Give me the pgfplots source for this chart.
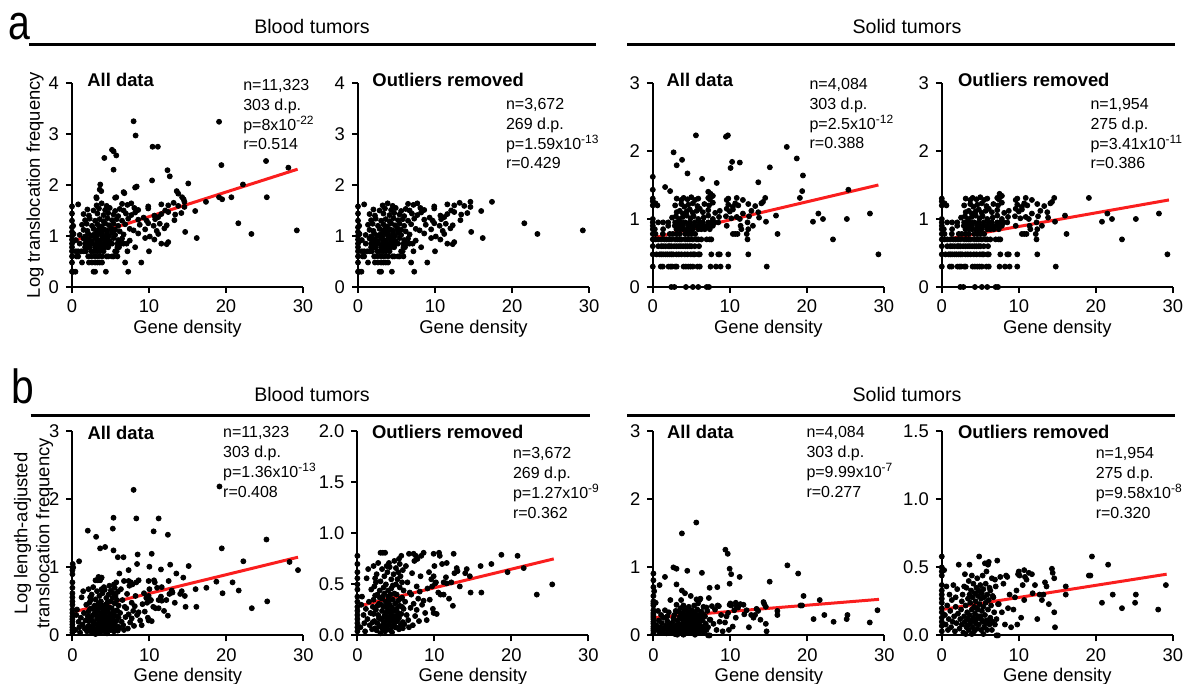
\documentclass[border=0pt]{standalone}
\usepackage{pgfplots}
\pgfplotsset{compat=1.18}
\usepackage{pgfplotstable}
\usepackage{fontspec}
\setmainfont{Liberation Sans}

\definecolor{fitred}{RGB}{250,30,30}

% blood tumors, row a (translocation frequency)
\pgfplotstableread{
x y
0 0.30
0 0.48
0 0.60
0 0.70
0 0.78
0 0.85
0 0.93
0 1.00
0 1.08
0 1.17
0 1.30
0 1.44
0 1.58
0.15 1.20
0.2 0.90
0.2 0.30
0.45 0.30
2.8 0.30
3.0 0.30
4.4 0.30
7.3 0.30
1.3 0.48
2.2 0.48
2.6 0.48
3.0 0.48
3.3 0.48
3.6 0.48
3.9 0.48
6.9 0.48
9.0 0.48
0.6 0.60
0.8 0.60
2.1 0.60
2.5 0.60
3.0 0.60
3.4 0.60
3.9 0.60
4.5 0.60
4.7 0.60
5.2 0.60
5.4 0.60
5.9 0.60
0.5 0.70
0.8 0.70
1.2 0.70
1.5 0.70
1.8 0.70
2.5 0.70
2.8 0.70
3.2 0.70
3.6 0.70
4.1 0.70
5.6 0.70
5.8 0.70
7.2 0.70
10.0 0.70
1.7 0.78
2.1 0.78
2.3 0.78
3.0 0.78
3.4 0.78
3.9 0.78
4.3 0.78
4.7 0.78
5.9 0.78
6.1 0.78
8.2 0.78
1.0 0.85
1.7 0.85
2.2 0.85
2.6 0.85
3.2 0.85
3.5 0.85
3.9 0.85
4.2 0.85
4.5 0.85
4.9 0.85
5.2 0.85
5.9 0.85
6.4 0.85
6.7 0.85
7.1 0.85
11.6 0.85
12.3 0.84
0.5 0.92
1.5 0.95
1.9 0.91
2.2 0.94
2.6 0.90
3.0 0.96
3.3 0.92
3.6 0.89
3.9 0.95
4.3 0.91
4.6 0.94
4.9 0.90
5.4 0.96
6.0 0.92
6.5 0.95
7.5 0.91
9.5 0.96
10.7 0.93
12.5 0.88
16.2 0.96
0.2 1.04
1.0 1.02
1.7 0.99
2.1 1.05
2.5 1.01
2.9 1.03
3.2 0.99
3.5 1.06
3.85 1.02
4.1 0.98
4.5 1.04
4.8 1.00
5.2 1.06
5.6 1.02
6.7 1.03
8.6 1.05
10.1 0.99
11.2 1.04
23.3 1.04
14.7 1.08
29.2 1.11
1.5 1.12
2.0 1.10
2.8 1.14
3.2 1.11
3.6 1.15
3.9 1.09
4.2 1.13
4.6 1.10
5.1 1.15
5.6 1.12
6.2 1.09
7.5 1.14
8.0 1.11
9.5 1.13
11.0 1.10
12.0 1.15
1.3 1.22
1.9 1.24
2.6 1.20
3.3 1.23
3.8 1.19
4.3 1.25
4.8 1.21
5.4 1.24
6.0 1.20
6.9 1.23
8.8 1.22
9.9 1.25
10.6 1.20
11.4 1.24
12.3 1.21
21.6 1.25
1.7 1.31
2.3 1.34
3.0 1.30
3.6 1.33
4.1 1.29
4.6 1.35
5.2 1.31
5.8 1.33
6.5 1.30
7.3 1.34
8.6 1.32
9.3 1.36
9.7 1.30
10.8 1.33
11.2 1.37
13.3 1.31
1.5 1.43
2.2 1.40
3.3 1.44
4.1 1.41
4.7 1.45
5.4 1.42
6.0 1.39
7.0 1.44
7.7 1.41
8.2 1.46
10.7 1.40
11.6 1.43
12.5 1.47
13.4 1.42
14.2 1.45
2.0 1.52
2.8 1.50
3.5 1.54
4.3 1.51
4.9 1.55
5.6 1.49
6.2 1.53
6.7 1.50
8.1 1.55
8.6 1.51
9.9 1.54
12.1 1.50
16.0 1.49
14.6 1.57
0.8 1.62
3.2 1.60
3.85 1.64
4.5 1.59
6.5 1.63
7.2 1.61
7.7 1.64
9.9 1.58
11.6 1.62
12.5 1.60
13.2 1.65
13.8 1.59
14.6 1.67
17.4 1.67
8.0 3.25
8.26 2.97
19.1 3.24
10.46 2.75
11.15 2.75
5.2 2.69
5.4 2.66
4.2 2.53
5.75 2.58
5.4 2.30
25.2 2.47
28.1 2.34
19.4 2.39
12.4 2.29
12.7 2.17
10.4 2.09
15.1 2.03
22.2 2.01
8.4 1.97
8.2 1.95
3.67 2.01
3.6 1.91
3.8 1.88
6.7 1.86
3.16 1.76
5.75 1.76
13.6 1.88
13.8 1.83
14.3 1.76
20.7 1.76
19.1 1.76
25.3 1.76
19.5 1.72
6.8 1.84
5.6 1.75
3.2 1.74
14.5 1.72
}\bloodA

% solid tumors, row a
\pgfplotstableread{
x y
0 0.30
0 0.48
0 0.60
0 0.70
0 0.78
0 0.85
0 0.90
0 0.95
0 1.00
0 1.20
0 1.26
0 1.30
0.35 1.23
0.6 1.20
2.4 0
2.8 0
4.3 0
5.2 0
5.9 0
7.0 0
7.3 0
1.04 0.30
1.3 0.30
2.04 0.30
2.3 0.30
2.5 0.30
2.9 0.30
3.1 0.30
4.0 0.30
4.3 0.30
4.6 0.30
4.9 0.30
5.2 0.30
5.8 0.30
6.1 0.30
7.5 0.30
8.2 0.30
8.8 0.30
9.8 0.30
14.8 0.30
0.48 0.48
0.9 0.48
1.1 0.48
1.34 0.48
1.65 0.48
1.9 0.48
2.2 0.48
2.42 0.48
2.64 0.48
3.07 0.48
3.38 0.48
3.72 0.48
4.16 0.48
4.5 0.48
4.94 0.48
5.24 0.48
5.45 0.48
5.9 0.48
6.1 0.48
7.6 0.48
8.5 0.48
8.7 0.48
9.8 0.48
12.4 0.48
29.3 0.48
0.7 0.60
1.1 0.60
1.34 0.60
1.65 0.60
2.0 0.60
2.2 0.60
2.42 0.60
2.77 0.60
3.07 0.60
3.38 0.60
3.64 0.60
3.94 0.60
4.24 0.60
4.5 0.60
4.8 0.60
5.02 0.60
5.45 0.60
6.0 0.60
0.35 0.70
0.7 0.70
1.1 0.70
1.5 0.70
1.8 0.70
2.1 0.70
2.4 0.70
2.9 0.70
3.2 0.70
3.5 0.70
3.7 0.70
4.2 0.70
4.5 0.70
4.8 0.70
5.2 0.70
5.7 0.70
5.9 0.70
6.3 0.70
7.0 0.70
7.4 0.70
7.6 0.70
12.3 0.70
23.4 0.70
0.35 0.78
1.3 0.78
2.2 0.78
2.6 0.78
3.1 0.78
3.5 0.78
4.2 0.78
4.6 0.78
5.0 0.78
5.5 0.78
10.4 0.78
10.7 0.78
11.0 0.78
12.2 0.78
16.2 0.78
0.26 0.85
1.34 0.85
3.07 0.85
3.5 0.85
3.9 0.85
4.4 0.85
4.8 0.85
5.2 0.85
5.9 0.85
6.3 0.85
6.75 0.85
7.4 0.85
11.5 0.85
12.4 0.85
2.0 0.90
2.86 0.90
3.2 0.90
3.5 0.90
3.9 0.90
4.6 0.90
5.0 0.90
5.45 0.90
5.9 0.90
6.5 0.90
7.0 0.90
7.4 0.90
7.6 0.90
7.8 0.90
9.6 0.90
11.4 0.90
13.0 0.90
0.7 0.95
1.34 0.95
2.0 0.95
2.9 0.95
3.3 0.95
3.7 0.95
4.2 0.95
4.8 0.95
5.45 0.95
6.1 0.95
6.5 0.95
7.2 0.95
7.6 0.95
8.0 0.95
8.5 0.95
12.3 0.95
14.7 0.96
20.8 0.96
2.5 1.02
3.0 1.04
3.4 1.00
3.9 1.03
4.4 1.05
4.9 1.01
5.3 1.04
5.9 1.00
6.6 1.02
7.2 1.05
7.8 1.00
8.6 1.03
9.5 1.04
10.2 1.01
10.9 1.03
11.3 1.00
12.5 1.04
13.8 1.02
22.1 1.00
25.2 1.00
3.1 1.10
3.5 1.12
3.9 1.08
4.4 1.11
4.8 1.14
5.2 1.09
5.7 1.12
6.1 1.15
6.5 1.10
7.2 1.13
8.1 1.09
8.7 1.12
9.6 1.15
10.0 1.11
10.4 1.14
11.7 1.08
12.8 1.12
13.7 1.10
16.0 1.05
21.5 1.08
28.2 1.08
2.9 1.20
3.7 1.22
4.1 1.18
4.6 1.21
5.2 1.23
5.8 1.19
6.7 1.22
7.3 1.20
7.8 1.24
9.8 1.21
10.4 1.18
10.7 1.23
11.1 1.20
12.4 1.22
13.3 1.19
14.1 1.23
14.3 1.25
3.1 1.30
3.7 1.28
4.0 1.31
4.5 1.29
5.0 1.32
5.5 1.28
5.9 1.30
7.2 1.31
7.4 1.29
7.6 1.33
9.6 1.28
9.8 1.30
10.9 1.31
11.7 1.28
14.6 1.31
19.1 1.31
7.5 1.37
7.8 1.34
0 1.43
0 1.62
1.6 1.47
2.25 1.41
2.7 1.98
3.1 1.79
3.8 1.87
4.5 1.67
5.6 2.23
6.4 1.59
8.3 1.53
9.5 2.21
9.75 2.23
10.3 1.84
10.1 1.75
11.3 1.83
13.7 1.54
15.2 1.76
17.4 2.06
18.7 1.89
19.5 1.64
19.4 1.41
25.4 1.43
7.2 1.40
}\solidA

% blood tumors, row b (length-adjusted)
\pgfplotstableread{
x y
0 0.04
0 0.08
0 0.12
0 0.16
0 0.20
0 0.24
0 0.28
0 0.33
0 0.38
0 0.45
0 0.50
0 0.56
0 0.62
0 0.70
0 0.78
0.4 0.08
0.5 0.30
0.6 0.38
0.8 0.20
0.9 0.12
1.0 0.04
1.1 0.26
1.2 0.56
1.3 0.16
1.4 0.65
1.5 0.33
1.6 0.10
1.7 0.22
1.8 0.45
1.9 0.06
2.0 0.28
2.1 0.68
2.2 0.14
2.3 0.39
2.4 0.52
2.5 0.05
2.6 0.12
2.7 0.20
2.8 0.31
2.9 0.44
3.0 0.81
3.0 0.02
3.1 0.09
3.1 0.16
3.2 0.24
3.2 0.36
3.3 0.81
3.3 0.06
3.4 0.13
3.4 0.28
3.5 0.19
3.5 0.41
3.6 0.81
3.6 0.04
3.6 0.10
3.7 0.22
3.7 0.33
3.8 0.15
3.8 0.68
3.9 0.07
3.9 0.26
4.0 0.18
4.0 0.38
4.1 0.11
4.1 0.71
4.2 0.23
4.2 0.30
4.3 0.05
4.3 0.14
4.4 0.20
4.4 0.46
4.5 0.09
4.5 0.27
4.6 0.35
4.6 0.16
4.7 0.60
4.7 0.24
4.8 0.12
4.8 0.73
4.9 0.31
4.9 0.19
5.0 0.50
5.0 0.08
5.1 0.26
5.1 0.40
5.2 0.14
5.2 0.55
5.3 0.22
5.3 0.34
5.4 0.75
5.4 0.17
5.5 0.47
5.5 0.29
5.6 0.10
5.6 0.58
5.7 0.78
5.7 0.21
5.8 0.37
5.8 0.52
5.9 0.13
5.9 0.64
6.0 0.26
6.0 0.44
2.0 0.13
2.1 0.35
2.2 0.48
2.3 0.07
2.4 0.25
2.5 0.60
2.6 0.40
2.7 0.71
2.8 0.17
2.9 0.09
3.0 0.53
3.2 0.65
3.4 0.47
3.5 0.58
3.7 0.50
3.9 0.62
4.0 0.44
4.2 0.67
4.4 0.55
4.6 0.49
4.8 0.41
5.0 0.66
5.3 0.62
5.5 0.70
5.8 0.28
2.1 0.21
2.3 0.56
2.6 0.29
2.9 0.37
3.1 0.30
3.3 0.38
3.5 0.08
3.8 0.29
4.1 0.34
4.3 0.40
4.5 0.03
4.7 0.15
4.9 0.08
5.1 0.18
5.4 0.06
5.6 0.36
5.9 0.07
6.1 0.11
6.2 0.33
6.3 0.68
6.4 0.20
6.5 0.52
6.6 0.15
6.7 0.80
6.7 0.08
6.8 0.42
6.9 0.27
7.0 0.40
7.1 0.61
7.2 0.10
7.3 0.80
7.3 0.31
7.4 0.73
7.5 0.19
7.6 0.78
7.7 0.25
7.7 0.48
7.8 0.75
7.9 0.36
8.0 0.14
8.1 0.43
8.2 0.58
8.3 0.78
8.4 0.30
8.6 0.81
8.6 0.34
8.8 0.22
9.0 0.15
9.1 0.46
9.3 0.62
9.4 0.35
9.6 0.55
9.7 0.48
9.8 0.26
9.9 0.22
9.9 0.80
9.9 0.58
10.0 0.68
10.1 0.51
10.2 0.52
10.3 0.21
10.5 0.42
10.6 0.81
10.7 0.78
10.8 0.40
11.0 0.70
11.2 0.52
11.2 0.40
11.5 0.57
11.6 0.71
11.6 0.51
11.9 0.36
12.2 0.52
12.4 0.29
12.5 0.80
12.6 0.61
12.9 0.66
13.0 0.63
13.3 0.48
14.0 0.61
14.2 0.65
14.6 0.58
14.7 0.42
16.0 0.68
16.1 0.42
17.4 0.70
18.7 0.79
19.5 0.62
20.8 0.78
21.6 0.66
23.3 0.40
25.3 0.50
7.95 2.14
19.1 2.19
5.34 1.73
8.3 1.72
11.2 1.72
2.0 1.54
5.25 1.57
10.55 1.53
12.4 1.48
3.08 1.45
25.2 1.41
19.4 1.28
3.6 1.28
4.25 1.30
5.34 1.25
5.9 1.15
6.64 1.15
8.47 1.19
10.3 1.20
0.87 1.09
0.04 1.05
0.1 1.00
10.0 1.01
22.2 1.09
28.2 1.08
29.3 0.96
12.7 1.04
11.5 0.97
15.1 1.02
7.3 0.96
8.4 1.05
6.1 0.91
13.5 0.91
14.4 0.85
3.4 0.86
3.8 0.85
0 0.90
0 0.96
}\bloodB

% solid tumors, row b
\pgfplotstableread{
x y
0 0.03
0 0.07
0 0.10
0 0.13
0 0.17
0 0.20
0 0.24
0 0.27
0 0.30
0 0.33
0 0.37
0 0.44
0 0.47
0 0.50
0 0.58
0.3 0.48
0.4 0.15
0.5 0.08
0.6 0.36
0.7 0.22
0.8 0.04
0.9 0.12
1.0 0.30
1.1 0.18
1.2 0.06
1.3 0.26
1.4 0.10
1.5 0.37
1.6 0.14
1.7 0.03
1.8 0.21
1.8 0.28
1.9 0.09
2.0 0.34
2.1 0.16
2.2 0.52
2.3 0.05
2.4 0.12
2.5 0.19
2.6 0.08
2.6 0.25
2.7 0.30
2.8 0.02
2.9 0.14
2.9 0.36
3.0 0.45
3.0 0.10
3.1 0.22
3.1 0.01
3.2 0.06
3.2 0.35
3.3 0.17
3.3 0.07
3.4 0.12
3.4 0.27
3.5 0.04
3.5 0.40
3.6 0.52
3.6 0.15
3.6 0.30
3.7 0.09
3.7 0.24
3.8 0.33
3.8 0.11
3.9 0.19
3.9 0.44
3.9 0.01
4.0 0.06
4.0 0.28
4.1 0.13
4.1 0.38
4.2 0.21
4.2 0.03
4.2 0.11
4.3 0.16
4.3 0.31
4.4 0.09
4.4 0.25
4.5 0.35
4.5 0.12
4.5 0.20
4.6 0.05
4.6 0.42
4.7 0.19
4.7 0.29
4.8 0.33
4.8 0.08
4.8 0.14
4.85 0.58
4.9 0.23
5.0 0.14
5.0 0.37
5.1 0.27
5.1 0.04
5.1 0.12
5.2 0.31
5.2 0.18
5.3 0.10
5.3 0.44
5.4 0.34
5.4 0.21
5.4 0.01
5.5 0.06
5.5 0.28
5.6 0.53
5.6 0.15
5.7 0.38
5.7 0.24
5.7 0.09
5.8 0.11
5.8 0.47
5.9 0.30
5.9 0.04
6.0 0.52
6.0 0.19
6.0 0.11
6.1 0.54
6.1 0.26
6.2 0.08
6.2 0.35
6.3 0.33
6.3 0.13
6.4 0.22
6.5 0.04
6.5 0.42
6.6 0.29
6.6 0.10
6.7 0.28
6.8 0.17
6.9 0.41
6.9 0.08
7.0 0.36
7.1 0.12
7.1 0.00
7.2 0.55
7.3 0.00
7.3 0.23
7.4 0.23
7.6 0.43
7.8 0.17
8.0 0.38
8.2 0.08
8.35 0.44
8.5 0.43
8.6 0.20
8.8 0.30
9.0 0.06
9.3 0.19
9.5 0.28
9.7 0.33
9.8 0.08
9.9 0.45
10.0 0.47
10.1 0.44
10.3 0.13
10.5 0.37
10.7 0.48
10.7 0.26
10.8 0.43
11.0 0.41
11.3 0.46
11.7 0.45
11.8 0.31
12.1 0.37
12.4 0.12
12.7 0.30
13.0 0.26
13.2 0.30
13.4 0.39
13.6 0.36
13.9 0.23
14.3 0.49
14.4 0.46
14.6 0.42
14.6 0.17
14.7 0.06
16.1 0.36
16.1 0.30
19.1 0.44
19.3 0.44
19.5 0.58
20.8 0.24
21.6 0.52
22.2 0.30
23.4 0.20
25.1 0.24
25.2 0.30
28.1 0.19
29.1 0.37
5.57 1.66
3.7 1.50
9.35 1.26
9.65 1.20
17.4 1.03
2.6 1.00
3.0 0.98
9.9 0.98
0 0.91
4.4 0.95
6.3 0.92
10.1 0.90
18.8 0.91
1.5 0.86
11.2 0.86
0 0.81
0.8 0.74
3.0 0.75
9.9 0.76
15.1 0.79
8.3 0.71
7.3 0.70
3.7 0.66
4.1 0.62
0 0.71
0.1 0.65
}\solidB

\pgfplotsset{
  prism/.style={
    scale only axis, width=115.5pt, height=102pt,
    axis x line*=bottom, axis y line*=left,
    axis line style={line width=1pt},
    xmin=0, xmax=30, xtick={0,10,20,30}, ymin=0,
    tick align=outside, major tick length=3pt,
    tick style={line width=1pt, black},
    clip=false,
    tick label style={font=\fontsize{9.2}{11}\selectfont},
    label style={font=\fontsize{9.2}{11}\selectfont},
    /pgf/number format/assume math mode=true,
    xlabel={Gene density},
    xlabel style={yshift=3.5pt},
    anchor=south west,
  },
  dots/.style={only marks, mark=*, mark size=1.25pt, black},
  fit/.style={no marks, line width=1.5pt, color=fitred},
}
\tikzset{
  ttl/.style={anchor=base west, inner sep=0pt, font=\fontsize{9.2}{11}\selectfont\bfseries},
  st/.style={anchor=base west, inner sep=0pt, font=\fontsize{8}{10}\selectfont},
  hdr/.style={anchor=base, inner sep=0pt, font=\fontsize{9.8}{12}\selectfont},
}
\newcommand{\stats}[6]{%
  \node[st] at (rel axis cs:#1,#2) {#3};
  \node[st, yshift=-9.9pt] at (rel axis cs:#1,#2) {#4};
  \node[st, yshift=-19.8pt] at (rel axis cs:#1,#2) {#5};
  \node[st, yshift=-29.7pt] at (rel axis cs:#1,#2) {#6};
}

\begin{document}
\begin{tikzpicture}
\useasboundingbox (0,0) rectangle (594pt,342pt);

% section headers
\node[anchor=base west, inner sep=0pt, text height=0.55em, xscale=0.8, font=\fontsize{24.5}{26}\selectfont] at (4pt,322.3pt) {a};
\node[anchor=base west, inner sep=0pt, text height=0.75em, xscale=0.85, font=\fontsize{24}{26}\selectfont] at (5.5pt,140pt) {b};
\node[hdr] at (156pt,325.3pt) {Blood tumors};
\node[hdr] at (453.5pt,325.3pt) {Solid tumors};
\draw[line width=1.5pt] (14.5pt,319.5pt) -- (298pt,319.5pt);
\draw[line width=1.5pt] (313.5pt,319.5pt) -- (587.5pt,319.5pt);
\node[hdr] at (156pt,141pt) {Blood tumors};
\node[hdr] at (453.5pt,141pt) {Solid tumors};
\draw[line width=1.5pt] (15.3pt,134pt) -- (295pt,134pt);
\draw[line width=1.5pt] (313.5pt,134pt) -- (587.5pt,134pt);

% row a
\begin{axis}[prism, at={(36pt,198.5pt)}, ymax=4, ytick={0,1,2,3,4},
  ylabel={Log translocation frequency},
  ylabel style={at={(rel axis cs:-0.16,0.5)}, anchor=center}]
\addplot[dots] table {\bloodA};
\addplot[fit] coordinates {(0.5,0.92) (29.3,2.31)};
\node[ttl] at (rel axis cs:0.065,0.983) {All data};
\stats{0.74}{0.963}{n=11,323}{303 d.p.}{p=8x10\textsuperscript{-22}}{r=0.514}
\end{axis}

\begin{axis}[prism, at={(179pt,198.5pt)}, ymax=4, ytick={0,1,2,3,4},
  restrict y to domain=0:1.7]
\addplot[dots] table {\bloodA};
\addplot[fit] coordinates {(0.5,0.92) (29.4,1.80)};
\node[ttl] at (rel axis cs:0.061,0.983) {Outliers removed};
\stats{0.639}{0.870}{n=3,672}{269 d.p.}{p=1.59x10\textsuperscript{-13}}{r=0.429}
\end{axis}

\begin{axis}[prism, at={(326.4pt,198.5pt)}, ymax=3, ytick={0,1,2,3}]
\addplot[dots] table {\solidA};
\addplot[fit] coordinates {(0,0.72) (29.3,1.50)};
\node[ttl] at (rel axis cs:0.058,0.983) {All data};
\stats{0.677}{0.968}{n=4,084}{303 d.p.}{p=2.5x10\textsuperscript{-12}}{r=0.388}
\end{axis}

\begin{axis}[prism, at={(470.9pt,198.5pt)}, ymax=3, ytick={0,1,2,3},
  restrict y to domain=0:1.39]
\addplot[dots] table {\solidA};
\addplot[fit] coordinates {(0,0.69) (29.5,1.28)};
\node[ttl] at (rel axis cs:0.069,0.983) {Outliers removed};
\stats{0.642}{0.870}{n=1,954}{275 d.p.}{p=3.41x10\textsuperscript{-11}}{r=0.386}
\end{axis}

% row b
\begin{axis}[prism, at={(36.2pt,24.3pt)}, ymax=3, ytick={0,1,2,3},
  ylabel={Log length-adjusted\\translocation frequency},
  ylabel style={align=center, at={(rel axis cs:-0.168,0.5)}, anchor=center}]
\addplot[dots] table {\bloodB};
\addplot[fit] coordinates {(0.3,0.35) (29.3,1.15)};
\node[ttl] at (rel axis cs:0.064,0.962) {All data};
\stats{0.651}{0.968}{n=11,323}{303 d.p.}{p=1.36x10\textsuperscript{-13}}{r=0.408}
\end{axis}

\begin{axis}[prism, at={(178.7pt,24.3pt)}, ymax=2, ytick={0,0.5,1,1.5,2},
  yticklabel style={/pgf/number format/.cd, fixed, fixed zerofill, precision=1},
  restrict y to domain=0:0.82]
\addplot[dots] table {\bloodB};
\addplot[fit] coordinates {(0.3,0.29) (25.5,0.75)};
\node[ttl] at (rel axis cs:0.062,0.965) {Outliers removed};
\stats{0.672}{0.866}{n=3,672}{269 d.p.}{p=1.27x10\textsuperscript{-9}}{r=0.362}
\end{axis}

\begin{axis}[prism, at={(326.7pt,24.3pt)}, ymax=3, ytick={0,1,2,3}]
\addplot[dots] table {\solidB};
\addplot[fit] coordinates {(0,0.26) (29.3,0.53)};
\node[ttl] at (rel axis cs:0.058,0.965) {All data};
\stats{0.661}{0.968}{n=4,084}{303 d.p.}{p=9.99x10\textsuperscript{-7}}{r=0.277}
\end{axis}

\begin{axis}[prism, at={(470.9pt,24.3pt)}, ymax=1.5, ytick={0,0.5,1,1.5},
  yticklabel style={/pgf/number format/.cd, fixed, fixed zerofill, precision=1},
  restrict y to domain=0:0.6]
\addplot[dots] table {\solidB};
\addplot[fit] coordinates {(0,0.19) (29.2,0.45)};
\node[ttl] at (rel axis cs:0.069,0.965) {Outliers removed};
\stats{0.665}{0.866}{n=1,954}{275 d.p.}{p=9.58x10\textsuperscript{-8}}{r=0.320}
\end{axis}
\end{tikzpicture}
\end{document}
